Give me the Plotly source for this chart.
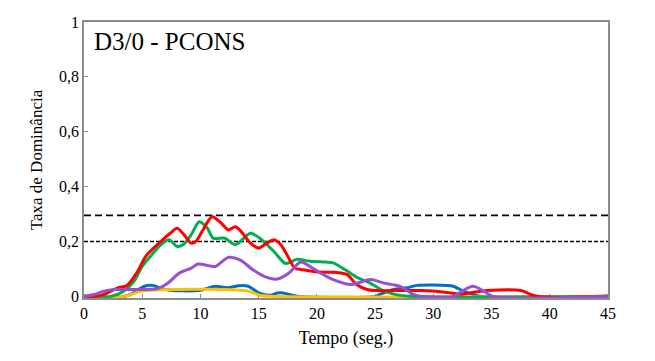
import plotly.graph_objects as go

# ---- data ----
red_t = [0, 1, 1.7, 2.9, 3.7, 4.6, 5.3, 6.6, 7.4, 8.0, 8.6, 9.2, 9.6, 10.3, 11.0, 11.8, 12.4, 13.0, 13.5,
         14.3, 15.0, 15.7, 16.3, 16.9, 17.5, 18.1, 18.8, 19.7, 20.6, 21.4, 22.6, 23.4, 24.3, 25, 29, 31,
         32.3, 33.5, 34.6, 37.5, 38.9, 45]
red_v = [0, 0, 0.007, 0.031, 0.04, 0.09, 0.146, 0.2, 0.23, 0.248, 0.224, 0.194, 0.2, 0.248, 0.29, 0.266,
         0.242, 0.254, 0.236, 0.194, 0.176, 0.194, 0.206, 0.188, 0.146, 0.103, 0.097, 0.091, 0.088, 0.088,
         0.079, 0.043, 0.025, 0.021, 0.021, 0.015, 0.008, 0.015, 0.021, 0.021, 0, 0]

green_t = [0, 2.3, 3.4, 4.3, 5.0, 5.7, 6.6, 7.3, 8.0, 8.5, 9.2, 9.9, 10.6, 11.1, 12.1, 13.0, 14.3, 15.1,
           16.3, 17.3, 18.3, 19.4, 20.8, 21.4, 22.5, 23.4, 24.5, 25.5, 26.6, 28, 45]
green_v = [0, 0, 0.019, 0.055, 0.109, 0.146, 0.188, 0.206, 0.182, 0.188, 0.224, 0.272, 0.248, 0.212, 0.212,
           0.188, 0.23, 0.212, 0.164, 0.12, 0.135, 0.128, 0.125, 0.122, 0.095, 0.07, 0.05, 0.025, 0.008, 0, 0]

purple_t = [0, 0.9, 1.7, 2.6, 4.3, 6.3, 7.1, 8.2, 9.2, 9.8, 10.7, 11.3, 12.4, 13.4, 14.5, 15.7, 16.6, 17.6,
            18.6, 19.4, 20.3, 21.4, 22.9, 24.6, 25.7, 27.1, 28.3, 28.9, 31.7, 32.5, 33.4, 34.3, 35.1, 45]
purple_v = [0, 0.007, 0.019, 0.025, 0.025, 0.028, 0.045, 0.085, 0.103, 0.118, 0.112, 0.109, 0.142, 0.133,
            0.097, 0.069, 0.063, 0.085, 0.125, 0.109, 0.085, 0.061, 0.043, 0.061, 0.049, 0.037, 0.007, 0,
            0, 0.02, 0.037, 0.02, 0, 0]

blue_t = [0, 3.5, 4.0, 5.2, 5.9, 6.7, 7.4, 8.5, 10, 10.5, 11.3, 12.3, 13.3, 14.1, 15.0, 16.0, 16.6, 17.1,
          18.3, 25.0, 25.4, 26.6, 27.7, 28.6, 31.2, 31.7, 32.6, 33.4, 34, 45]
blue_v = [0, 0, 0.007, 0.037, 0.04, 0.028, 0.022, 0.02, 0.022, 0.028, 0.037, 0.031, 0.039, 0.037, 0.013,
          0.004, 0.012, 0.012, 0, 0, 0.007, 0.025, 0.031, 0.04, 0.04, 0.037, 0.019, 0.007, 0, 0]

yellow_t = [0, 3.4, 4.2, 5.1, 14.0, 15.1, 16, 45]
yellow_v = [0, 0, 0.009, 0.02, 0.02, 0.004, 0, 0]

ref_upper = 0.295
ref_lower = 0.2
x_ticks = [0, 5, 10, 15, 20, 25, 30, 35, 40, 45]
y_ticks = [0, 0.2, 0.4, 0.6, 0.8, 1]
title_text = "D3/0 - PCONS"

FONT = "Liberation Serif, Times New Roman, serif"

fig = go.Figure()

fig.add_trace(go.Scatter(x=[0, 45], y=[ref_upper, ref_upper], mode="lines",
                         line=dict(color="black", width=1.7, dash="7px,4px"), hoverinfo="skip"))
fig.add_trace(go.Scatter(x=[0, 45], y=[ref_lower, ref_lower], mode="lines",
                         line=dict(color="black", width=1.7, dash="4px,2px"), hoverinfo="skip"))

series = [
    (blue_t, blue_v, "#0070C0"),
    (yellow_t, yellow_v, "#FFC000"),
    (green_t, green_v, "#00B050"),
    (red_t, red_v, "#FF0000"),
    (purple_t, purple_v, "#9A4FCF"),
]
for t, v, c in series:
    fig.add_trace(go.Scatter(x=t, y=v, mode="lines",
                             line=dict(color=c, width=3, shape="spline", smoothing=0.8)))

axis_common = dict(
    showline=True, linecolor="#8C8C8C", linewidth=1.5, mirror=True,
    ticks="inside", ticklen=4, tickcolor="#8C8C8C", tickwidth=1,
    showgrid=False, zeroline=False, layer="below traces",
    tickfont=dict(family=FONT, size=16, color="black"),
)

fig.update_layout(
    width=655, height=361,
    margin=dict(l=84, r=47, t=22, b=63),
    paper_bgcolor="white", plot_bgcolor="white",
    showlegend=False,
    separators=",.",
    font=dict(family=FONT, color="black"),
    xaxis=dict(range=[0, 45], tickvals=x_ticks,
               title=dict(text="Tempo (seg.)", font=dict(family=FONT, size=18), standoff=10),
               **axis_common),
    yaxis=dict(range=[-0.006, 1], tickvals=y_ticks, tickformat=".1~f",
               title=dict(text="Taxa de Dominância", font=dict(family=FONT, size=17), standoff=12),
               **axis_common),
    annotations=[dict(text=title_text, x=0.015, y=0.985, xref="paper", yref="paper",
                      xanchor="left", yanchor="top", showarrow=False,
                      font=dict(family=FONT, size=25, color="black"))],
)

fig.write_html("out.html")
